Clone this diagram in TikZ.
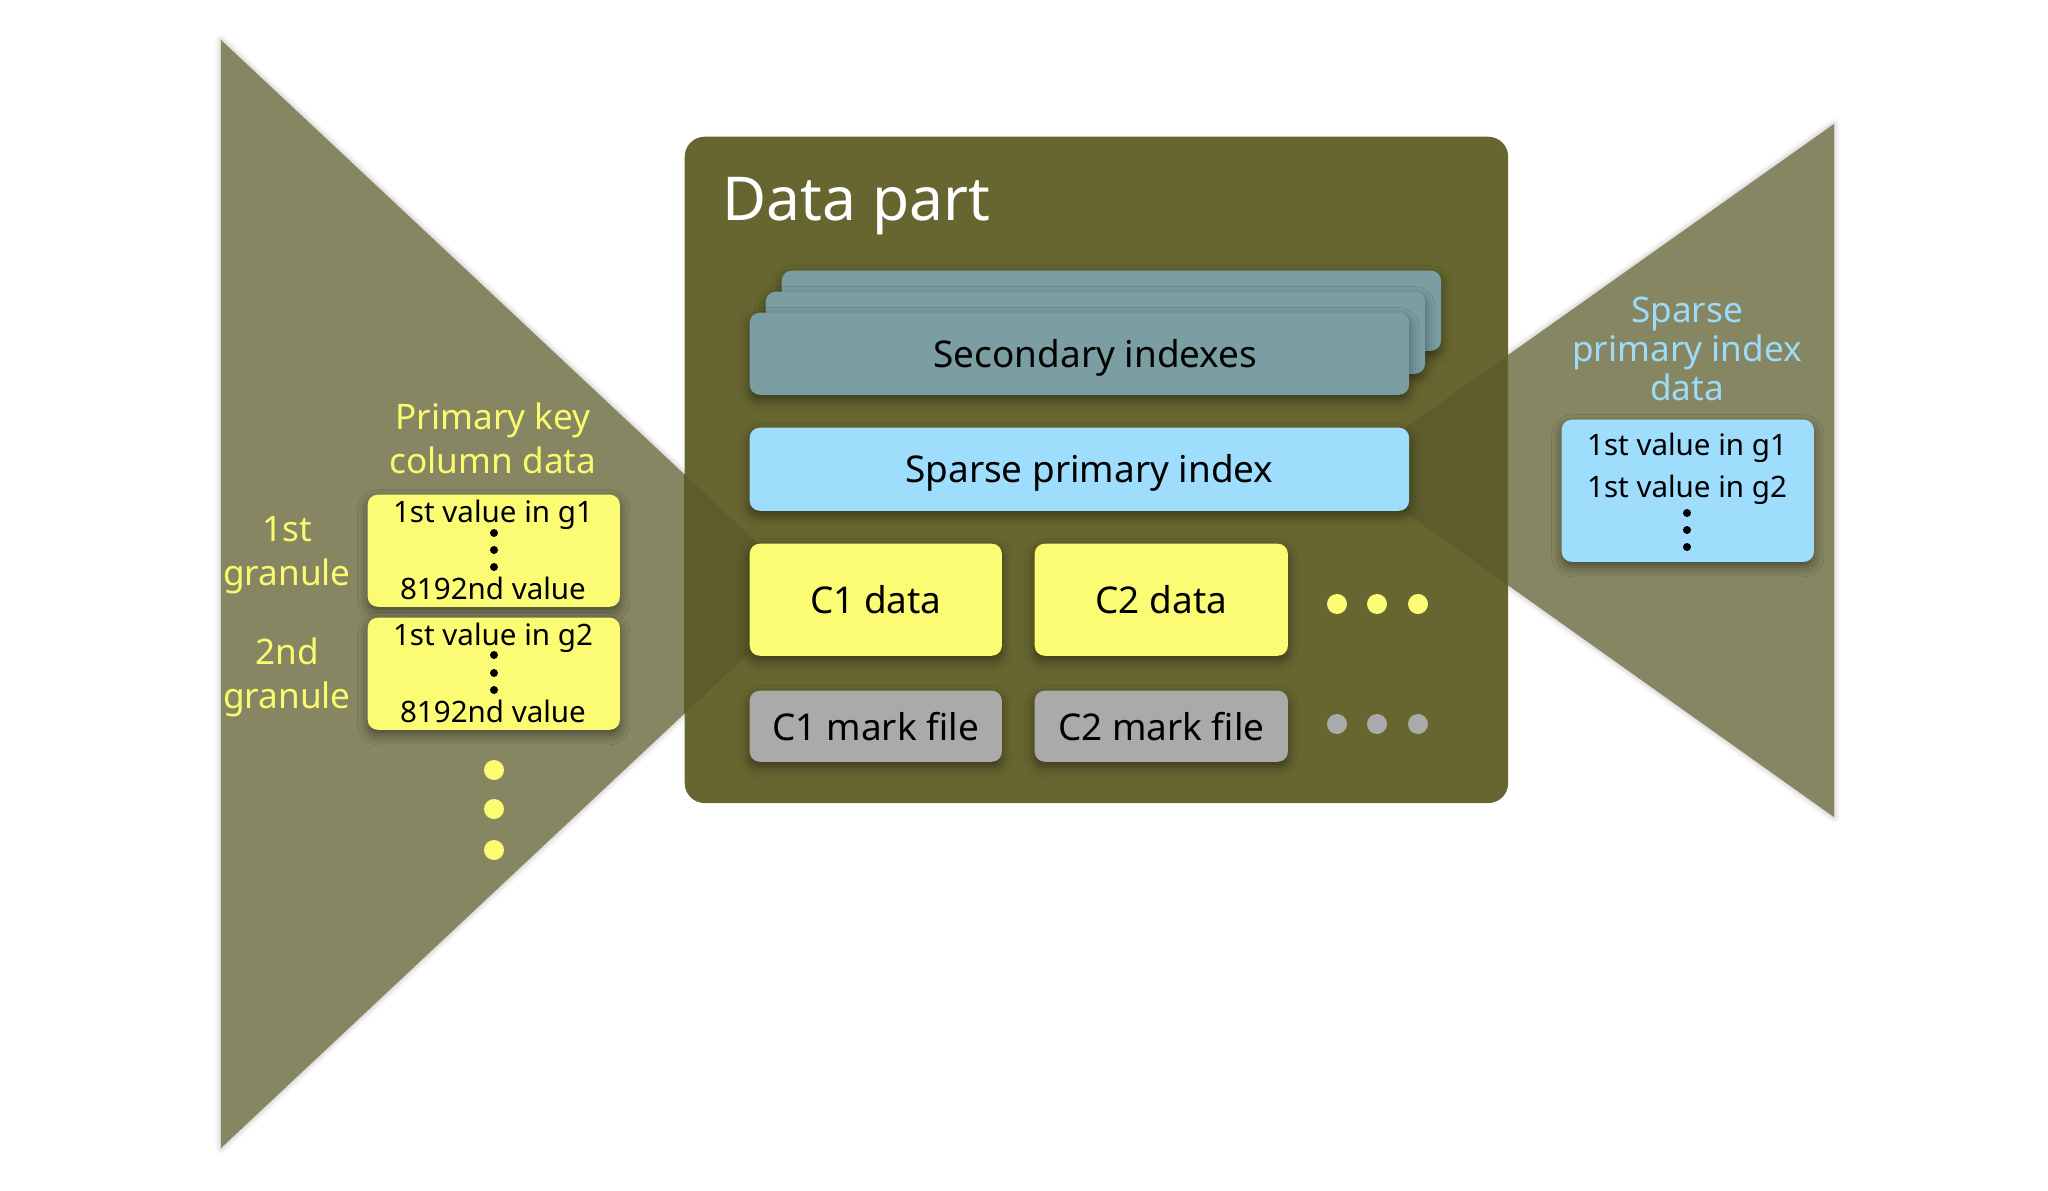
\documentclass[tikz,border=0pt]{standalone}
\usepackage{fontspec}
\setmainfont{Noto Sans}
\usetikzlibrary{shadows.blur}
\definecolor{tri}{HTML}{868662}
\definecolor{part}{HTML}{676630}
\definecolor{overlap}{HTML}{5C5C2D}
\definecolor{secidx}{HTML}{7A9EA2}
\definecolor{prim}{HTML}{9EDDFC}
\definecolor{colyel}{HTML}{FCFC74}
\definecolor{markgr}{HTML}{AAAAAA}
\definecolor{lblyel}{HTML}{FAFA6E}
\definecolor{lblblue}{HTML}{9CDCF8}

\begin{document}
\begin{tikzpicture}[
    x=0.01cm, y=-0.01cm,
    box/.style={anchor=north west, inner sep=0pt, rounded corners=0.1cm,
      blur shadow={shadow xshift=0pt, shadow yshift=-0.05cm,
        shadow blur radius=0.1cm, shadow opacity=45},
      font=\fontsize{10.5}{12}\selectfont},
    wide/.style={box, minimum width=6.59cm, minimum height=0.82cm},
    cell/.style={box, minimum width=2.52cm, minimum height=1.12cm, fill=colyel},
    markbox/.style={box, minimum width=2.52cm, minimum height=0.71cm, fill=markgr},
    ydot/.style={circle, fill=colyel, inner sep=0pt, minimum size=0.2cm},
    gdot/.style={ydot, fill=markgr},
    kdot/.style={circle, fill=black, inner sep=0pt, minimum size=0.08cm},
    small/.style={anchor=base, font=\fontsize{8.4}{10}\selectfont},
    lbl/.style={align=center, font=\fontsize{10}{12.5}\selectfont},
    trishadow/.style={blur shadow={shadow xshift=0pt, shadow yshift=0pt,
        shadow blur radius=0.06cm, shadow opacity=30}}
    ]
    \useasboundingbox (0,0) rectangle (2048,1191);
    % the two wedges
    \fill[tri, trishadow] (221,40) -- (812,594) -- (221,1148) -- cycle;
    \fill[tri, trishadow] (1834,124) -- (1346,470) -- (1834,817) -- cycle;
    % data part
    \node[anchor=north west, inner sep=0pt, minimum width=8.23cm,
      minimum height=6.66cm, fill=part, rounded corners=0.2cm] (part) at (684,136) {};
    \begin{scope}
      \clip[rounded corners=0.2cm] (684,136) rectangle (1507,802);
      \fill[overlap] (221,40) -- (812,594) -- (221,1148) -- cycle;
      \fill[overlap] (1834,124) -- (1346,470) -- (1834,817) -- cycle;
    \end{scope}
    \node[anchor=base west, text=white, font=\fontsize{17.2}{20}\selectfont]
      (title) at (710,221) {Data part};
    \node[wide, fill=secidx, minimum height=0.8cm] (sec3) at (781,270) {};
    \node[wide, fill=secidx] (sec2) at (765,291) {};
    \node[wide, fill=secidx,
      label={[xshift=0.16cm, yshift=-0.04cm, font=\fontsize{10.5}{12}\selectfont]center:Secondary indexes}]
      (sec1) at (749,312) {};
    \node[wide, fill=prim, minimum height=0.83cm,
      label={[xshift=0.1cm, yshift=-0.04cm, font=\fontsize{10.5}{12}\selectfont]center:Sparse primary index}]
      (sparse) at (749,427) {};
    \node[cell] (c1) at (749,543) {C1 data};
    \node[cell, minimum width=2.53cm] (c2) at (1034,543) {C2 data};
    \node[markbox] (m1) at (749,690) {C1 mark file};
    \node[markbox, minimum width=2.53cm] (m2) at (1034,690) {C2 mark file};
    \node[ydot] (cd1) at (1337,604) {};
    \node[ydot] (cd2) at (1377,604) {};
    \node[ydot] (cd3) at (1418,604) {};
    \node[gdot] (md1) at (1337,724) {};
    \node[gdot] (md2) at (1377,724) {};
    \node[gdot] (md3) at (1418,724) {};
    % primary key column
    \node[lbl, text=lblyel] (pkcol) at (493,438) {Primary key\\column data};
    \node[lbl, text=lblyel] (gr1) at (287,555) {1st\\granule};
    \node[lbl, text=lblyel] (gr2) at (287,677) {2nd\\granule};
    \node[cell] (g1) at (367,494) {};
    \node[cell] (g2) at (367,617) {};
    \node[small] (g1a) at (493,522) {1st value in g1};
    \node[kdot] (g1d1) at (494,533) {};
    \node[kdot] (g1d2) at (494,550) {};
    \node[kdot] (g1d3) at (494,567) {};
    \node[small] (g1b) at (493,599) {8192nd value};
    \node[small] (g2a) at (493,645) {1st value in g2};
    \node[kdot] (g2d1) at (494,655) {};
    \node[kdot] (g2d2) at (494,673) {};
    \node[kdot] (g2d3) at (494,690) {};
    \node[small] (g2b) at (493,722) {8192nd value};
    \node[ydot] (gd1) at (494,770) {};
    \node[ydot] (gd2) at (494,809) {};
    \node[ydot] (gd3) at (494,850) {};
    % sparse primary index data
    \node[lbl, text=lblblue, font=\fontsize{10}{11.1}\selectfont] (spcol) at (1687,349)
      {Sparse\\primary index\\data};
    \node[box, fill=prim, minimum width=2.52cm, minimum height=1.42cm] (marks) at (1561,419) {};
    \node[small] (mk1) at (1687,455) {1st value in g1};
    \node[small] (mk2) at (1687,497) {1st value in g2};
    \node[kdot] (mkd1) at (1687,513) {};
    \node[kdot] (mkd2) at (1687,530) {};
    \node[kdot] (mkd3) at (1687,547) {};
  \end{tikzpicture}
\end{document}
